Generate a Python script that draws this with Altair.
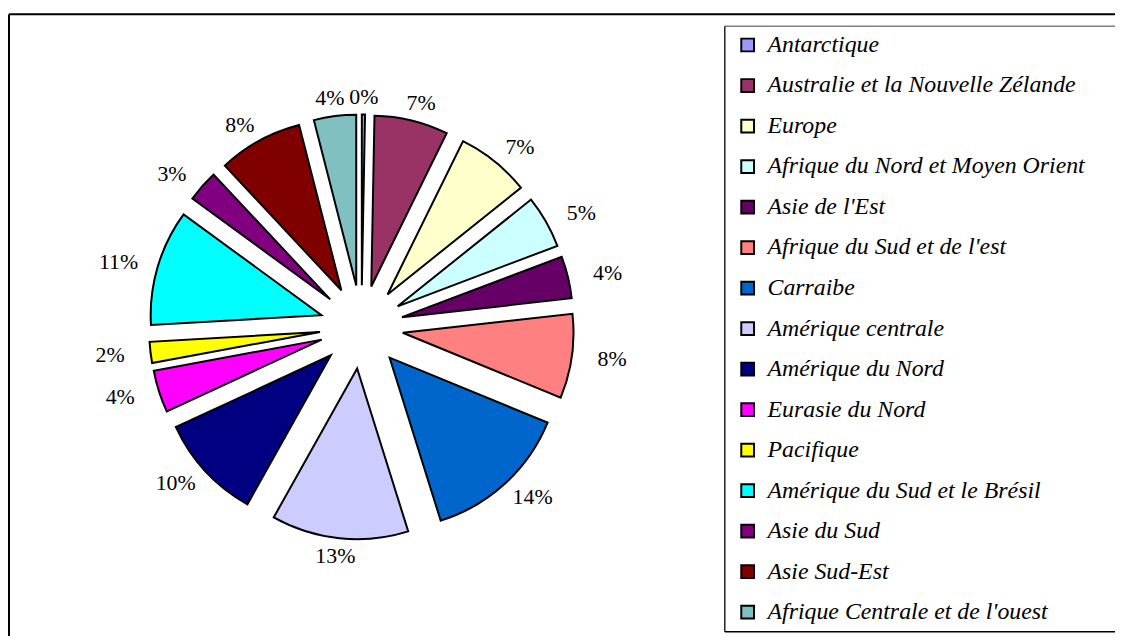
import altair as alt
import pandas as pd

# ---- data ----
regions = [
    "Antarctique",
    "Australie et la Nouvelle Zélande",
    "Europe",
    "Afrique du Nord et Moyen Orient",
    "Asie de l'Est",
    "Afrique du Sud et de l'est",
    "Carraibe",
    "Amérique centrale",
    "Amérique du Nord",
    "Eurasie du Nord",
    "Pacifique",
    "Amérique du Sud et le Brésil",
    "Asie du Sud",
    "Asie Sud-Est",
    "Afrique Centrale et de l'ouest",
]
shares = [0.3, 7, 7, 5, 4, 8, 14, 13, 10, 4, 2, 11, 3, 8, 4]
colors = [
    "#9999FF", "#993366", "#FFFFCC", "#CCFFFF", "#660066",
    "#FF8080", "#0066CC", "#CCCCFF", "#000080", "#FF00FF",
    "#FFFF00", "#00FFFF", "#800080", "#800000", "#80C0C0",
]

df = pd.DataFrame({"region": regions, "value": shares, "order": list(range(len(regions)))})

# ---- layout (pixels, view coordinates) ----
W, H = 1114, 624
CX, CY = 355, 315     # pie centre
R = 172               # slice radius
D = 42                # explosion distance
LX, LY = 255, 232     # label radii
BOX_L, BOX_T, BOX_B = 721, 12, 622   # legend frame

base = (
    alt.Chart(df)
    .transform_window(cum="sum(value)", sort=[alt.SortField("order")], frame=[None, 0])
    .transform_joinaggregate(total="sum(value)")
    .transform_calculate(
        t1="2*PI*(datum.cum - datum.value)/datum.total",
        t2="2*PI*datum.cum/datum.total",
    )
    .transform_calculate(mid="(datum.t1 + datum.t2)/2")
    .transform_calculate(
        px=f"{CX} + {D}*sin(datum.mid)",
        py=f"{CY} - {D}*cos(datum.mid)",
        lx=f"{CX} + {LX}*sin(datum.mid)",
        ly=f"{CY} - {LY}*cos(datum.mid)",
        pct="format(datum.value/datum.total, '.0%')",
    )
)

arcs = base.mark_arc(outerRadius=R, stroke="black", strokeWidth=2).encode(
    theta=alt.Theta("t1:Q", scale=None, stack=None),
    theta2="t2:Q",
    x=alt.X("px:Q", scale=None, stack=None),
    y=alt.Y("py:Q", scale=None, stack=None),
    color=alt.Color(
        "region:N",
        sort=regions,
        scale=alt.Scale(domain=regions, range=colors),
        legend=alt.Legend(
            orient="none",
            legendX=BOX_L,
            legendY=BOX_T - 4,
            title=None,
            symbolType="square",
            symbolSize=165,
            symbolStrokeColor="black",
            symbolStrokeWidth=2,
            symbolOpacity=1,
            labelFont="Liberation Serif",
            labelFontStyle="italic",
            labelFontSize=24,
            labelColor="black",
            labelOffset=8,
            labelLimit=600,
            rowPadding=16.8,
            padding=11,
            direction="vertical",
        ),
    ),
    order=alt.Order("order:Q"),
)

labels = base.mark_text(font="Liberation Serif", fontSize=22, color="black",
                        align="center", baseline="middle").encode(
    x=alt.X("lx:Q", scale=None, stack=None),
    y=alt.Y("ly:Q", scale=None, stack=None),
    text="pct:N",
)

frame_df = pd.DataFrame({"k": [0]})
top_rule = alt.Chart(frame_df).mark_rule(color="black", strokeWidth=2).encode(
    x=alt.value(0), x2=alt.value(W + 20), y=alt.value(0)
)
left_rule = alt.Chart(frame_df).mark_rule(color="black", strokeWidth=2).encode(
    x=alt.value(0), y=alt.value(0), y2=alt.value(H + 20)
)
box_top = alt.Chart(frame_df).mark_rule(color="#808080", strokeWidth=1.5).encode(
    x=alt.value(BOX_L), x2=alt.value(W + 20), y=alt.value(BOX_T)
)
box_left = alt.Chart(frame_df).mark_rule(color="black", strokeWidth=1.3).encode(
    x=alt.value(BOX_L), y=alt.value(BOX_T), y2=alt.value(BOX_B)
)
box_bottom = alt.Chart(frame_df).mark_rule(color="black", strokeWidth=1.3).encode(
    x=alt.value(BOX_L), x2=alt.value(W + 20), y=alt.value(BOX_B)
)

chart = (
    alt.layer(box_top, box_left, box_bottom, arcs, labels, top_rule, left_rule)
    .properties(
        width=W,
        height=H,
        padding={"left": 1, "top": 4, "right": 0, "bottom": 0},
        autosize=alt.AutoSizeParams(type="none"),
        background="white",
    )
    .configure_view(stroke=None)
)

chart.save("out.html", embed_options={"renderer": "svg", "actions": False})
